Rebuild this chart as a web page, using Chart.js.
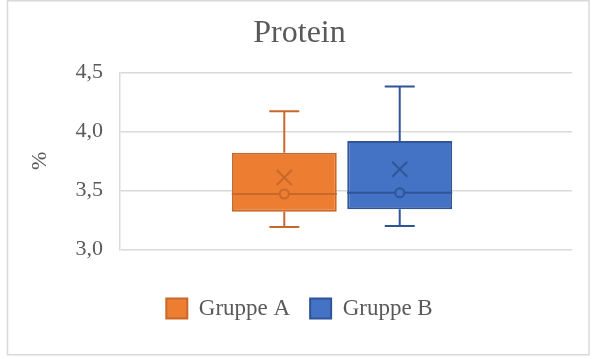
<!DOCTYPE html>
<html>
<head>
<meta charset="utf-8">
<script src="https://cdn.jsdelivr.net/npm/chart.js@4.4.1/dist/chart.umd.min.js"></script>
<style>
  html, body { margin: 0; padding: 0; background: #ffffff; }
  #wrap { position: relative; width: 593px; height: 359px; }
</style>
</head>
<body>
<div id="wrap"><canvas id="chart" width="593" height="359"></canvas></div>
<script>
// Protein content (%) per group: five-number summary plus mean
const groups = ['Gruppe A', 'Gruppe B'];
const minVals = [3.19, 3.20];
const q1Vals = [3.32, 3.34];
const medianVals = [3.47, 3.48];
const q3Vals = [3.82, 3.92];
const maxVals = [4.17, 4.38];
const meanVals = [3.61, 3.68];
const yTicks = [3.0, 3.5, 4.0, 4.5];

const fillColors = ['#ED7D31', '#4472C4'];
const lineColors = ['#C8692B', '#2F5597'];
const textColor = '#595959';
const gridColor = '#D9D9D9';
const serif = "'Liberation Serif', 'Times New Roman', serif";

// Whiskers, median line, median marker and mean cross for each box
const boxDetails = {
  id: 'boxDetails',
  afterDatasetsDraw(chart) {
    const ctx = chart.ctx;
    const y = chart.scales.y;
    chart.data.datasets.forEach((ds, i) => {
      const bar = chart.getDatasetMeta(i).data[0];
      if (!bar) return;
      const cx = bar.x;
      const half = bar.width / 2;
      const cap = 15;
      ctx.save();
      ctx.strokeStyle = lineColors[i];
      ctx.lineWidth = 2;
      ctx.beginPath();
      // upper whisker
      ctx.moveTo(cx, y.getPixelForValue(q3Vals[i]));
      ctx.lineTo(cx, y.getPixelForValue(maxVals[i]));
      ctx.moveTo(cx - cap, y.getPixelForValue(maxVals[i]));
      ctx.lineTo(cx + cap, y.getPixelForValue(maxVals[i]));
      // lower whisker
      ctx.moveTo(cx, y.getPixelForValue(q1Vals[i]));
      ctx.lineTo(cx, y.getPixelForValue(minVals[i]));
      ctx.moveTo(cx - cap, y.getPixelForValue(minVals[i]));
      ctx.lineTo(cx + cap, y.getPixelForValue(minVals[i]));
      // median line
      ctx.moveTo(cx - half, y.getPixelForValue(medianVals[i]));
      ctx.lineTo(cx + half, y.getPixelForValue(medianVals[i]));
      ctx.stroke();
      // median marker
      ctx.beginPath();
      ctx.arc(cx, y.getPixelForValue(medianVals[i]), 4.5, 0, Math.PI * 2);
      ctx.fillStyle = fillColors[i];
      ctx.fill();
      ctx.stroke();
      // mean cross
      const my = y.getPixelForValue(meanVals[i]);
      const s = 7.5;
      ctx.beginPath();
      ctx.moveTo(cx - s, my - s);
      ctx.lineTo(cx + s, my + s);
      ctx.moveTo(cx + s, my - s);
      ctx.lineTo(cx - s, my + s);
      ctx.stroke();
      ctx.restore();
    });
  }
};

// Frame around the whole chart
const frame = {
  id: 'frame',
  beforeDraw(chart) {
    const ctx = chart.ctx;
    ctx.save();
    ctx.fillStyle = '#ffffff';
    ctx.fillRect(0, 0, chart.width, chart.height);
    ctx.strokeStyle = gridColor;
    ctx.lineWidth = 1.5;
    ctx.strokeRect(7.5, 0.75, 581.5, 354);
    ctx.restore();
  }
};

// Category band slightly narrower than the plot area on the right
const bandInset = {
  id: 'bandInset',
  afterLayout(chart) {
    const x = chart.scales.x;
    x.right = chart.chartArea.right - 8;
    x.width = x.right - x.left;
    x.configure();
  }
};

new Chart(document.getElementById('chart'), {
  type: 'bar',
  data: {
    labels: ['Protein'],
    datasets: groups.map((g, i) => ({
      label: g,
      data: [[q1Vals[i], q3Vals[i]]],
      backgroundColor: fillColors[i],
      borderColor: lineColors[i],
      borderWidth: 2,
      borderSkipped: false,
      categoryPercentage: 0.52,
      barPercentage: 0.909
    }))
  },
  options: {
    responsive: false,
    animation: false,
    layout: { padding: { left: 27, right: 21, top: 0, bottom: 29 } },
    plugins: {
      title: {
        display: true,
        text: 'Protein',
        color: textColor,
        font: { family: serif, size: 32, weight: 'normal' },
        padding: { top: 14, bottom: 20 }
      },
      legend: {
        position: 'bottom',
        labels: {
          color: textColor,
          font: { family: serif, size: 23 },
          boxWidth: 21,
          boxHeight: 20,
          padding: 20
        }
      },
      tooltip: { enabled: false }
    },
    scales: {
      x: {
        display: true,
        afterFit(scale) { scale.height = 27.5; },
        ticks: { display: false },
        grid: { display: false, drawTicks: false },
        border: { display: false }
      },
      y: {
        min: 3.0,
        max: 4.5,
        afterFit(scale) { scale.width = 93; },
        afterBuildTicks(scale) { scale.ticks = yTicks.map(v => ({ value: v })); },
        ticks: {
          color: textColor,
          font: { family: serif, size: 22 },
          padding: 17,
          callback: v => v.toFixed(1).replace('.', ',')
        },
        grid: { color: gridColor, lineWidth: 1.5, drawTicks: false },
        border: { display: true, color: gridColor, width: 1.5 },
        title: {
          display: true,
          text: '%',
          color: textColor,
          font: { family: serif, size: 22 },
          padding: { top: 0, bottom: 0 }
        }
      }
    }
  },
  plugins: [frame, bandInset, boxDetails]
});
</script>
</body>
</html>
